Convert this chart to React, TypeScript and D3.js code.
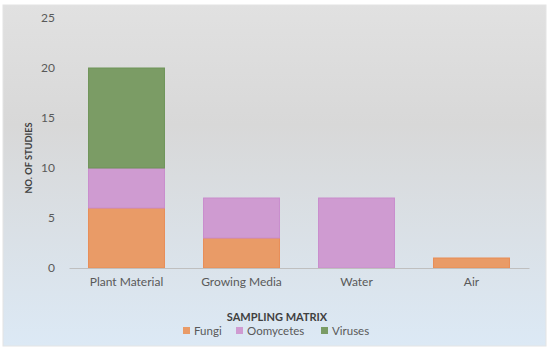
import { useRef, useEffect } from 'react'
import * as d3 from 'd3'

const WIDTH = 550
const HEIGHT = 352
const MARGIN = { top: 18, right: 21, bottom: 84, left: 69 }

const CATEGORIES = ['Plant Material', 'Growing Media', 'Water', 'Air']
const SERIES = ['Fungi', 'Oomycetes', 'Viruses']
const FUNGI = [6, 3, 0, 1]
const OOMYCETES = [4, 4, 7, 0]
const VIRUSES = [10, 0, 0, 0]
const Y_TICKS = [0, 5, 10, 15, 20, 25]

const COLORS = ['#e99b67', '#cf9bd1', '#7b9c65']
const STROKES = ['#e88c55', '#c98ccc', '#6e9458']
const FONT = 'Lato, "Open Sans", sans-serif'

export default function App() {
  const svgRef = useRef<SVGSVGElement>(null)

  useEffect(() => {
    if (!svgRef.current) return
    const el = d3.select(svgRef.current)
    el.selectAll('*').remove()

    const innerW = WIDTH - MARGIN.left - MARGIN.right
    const innerH = HEIGHT - MARGIN.top - MARGIN.bottom

    // background panel gradient
    const defs = el.append('defs')
    const grad = defs.append('linearGradient').attr('id', 'bg').attr('x1', 0).attr('y1', 0).attr('x2', 0).attr('y2', 1)
    grad.append('stop').attr('offset', '0%').attr('stop-color', '#e1e1e1')
    grad.append('stop').attr('offset', '35%').attr('stop-color', '#d8d8d8')
    grad.append('stop').attr('offset', '100%').attr('stop-color', '#dce9f5')

    el.append('rect')
      .attr('x', 3).attr('y', 5).attr('width', 543).attr('height', 341)
      .attr('fill', 'url(#bg)')
      .attr('stroke', '#e4e4e4').attr('stroke-width', 1)

    const rows = CATEGORIES.map((c, i) => ({ cat: c, Fungi: FUNGI[i], Oomycetes: OOMYCETES[i], Viruses: VIRUSES[i] }))
    const stacked = d3.stack<any>().keys(SERIES)(rows)

    const x = d3.scaleBand().domain(CATEGORIES).range([0, innerW]).paddingInner(0.34).paddingOuter(0.17)
    const y = d3.scaleLinear().domain([0, 25]).range([innerH, 0])

    const svg = el.append('g').attr('transform', `translate(${MARGIN.left},${MARGIN.top})`)

    // Bars
    stacked.forEach((layer, si) => {
      svg.append('g')
        .selectAll('rect')
        .data(layer.filter((d) => d[1] - d[0] > 0))
        .join('rect')
        .attr('x', (d) => x(d.data.cat) ?? 0)
        .attr('y', (d) => y(d[1]))
        .attr('width', x.bandwidth())
        .attr('height', (d) => y(d[0]) - y(d[1]))
        .attr('fill', COLORS[si])
        .attr('stroke', STROKES[si])
        .attr('stroke-width', 1)
    })

    // X axis
    svg.append('g')
      .attr('transform', `translate(0,${innerH})`)
      .call(d3.axisBottom(x).tickSize(0).tickPadding(9))
      .call((g) => {
        g.select('.domain').attr('stroke', '#bfbfbf').attr('stroke-width', 1.2)
        g.selectAll('text').attr('fill', '#595959').attr('font-size', '12px').attr('font-family', FONT)
      })

    // Y axis
    svg.append('g')
      .call(d3.axisLeft(y).tickValues(Y_TICKS).tickSize(0).tickPadding(14))
      .call((g) => {
        g.select('.domain').remove()
        g.selectAll('text').attr('fill', '#595959').attr('font-size', '12px').attr('font-family', FONT)
      })

    // Axis titles
    el.append('text')
      .attr('x', 277)
      .attr('y', 321)
      .attr('text-anchor', 'middle')
      .attr('font-family', FONT)
      .attr('font-size', '11px')
      .attr('font-weight', 'bold')
      .attr('fill', '#404040')
      .text('SAMPLING MATRIX')

    el.append('text')
      .attr('transform', 'translate(32,158) rotate(-90)')
      .attr('text-anchor', 'middle')
      .attr('font-family', FONT)
      .attr('font-size', '10px')
      .attr('font-weight', 'bold')
      .attr('fill', '#404040')
      .attr('textLength', 71)
      .attr('lengthAdjust', 'spacingAndGlyphs')
      .text('NO. OF STUDIES')

    // Legend
    const legendX = [183, 236, 321]
    const legend = el.append('g')
    SERIES.forEach((s, i) => {
      legend.append('rect')
        .attr('x', legendX[i]).attr('y', 327).attr('width', 7).attr('height', 7)
        .attr('fill', COLORS[i])
      legend.append('text')
        .attr('x', legendX[i] + 11).attr('y', 335)
        .attr('font-family', FONT).attr('font-size', '11.5px').attr('fill', '#595959')
        .text(s)
    })
  }, [])

  return (
    <div style={{ position: 'absolute', left: 0, top: 0 }}>
      <svg ref={svgRef} width={WIDTH} height={HEIGHT} style={{ display: 'block', background: '#fff' }} />
    </div>
  )
}
